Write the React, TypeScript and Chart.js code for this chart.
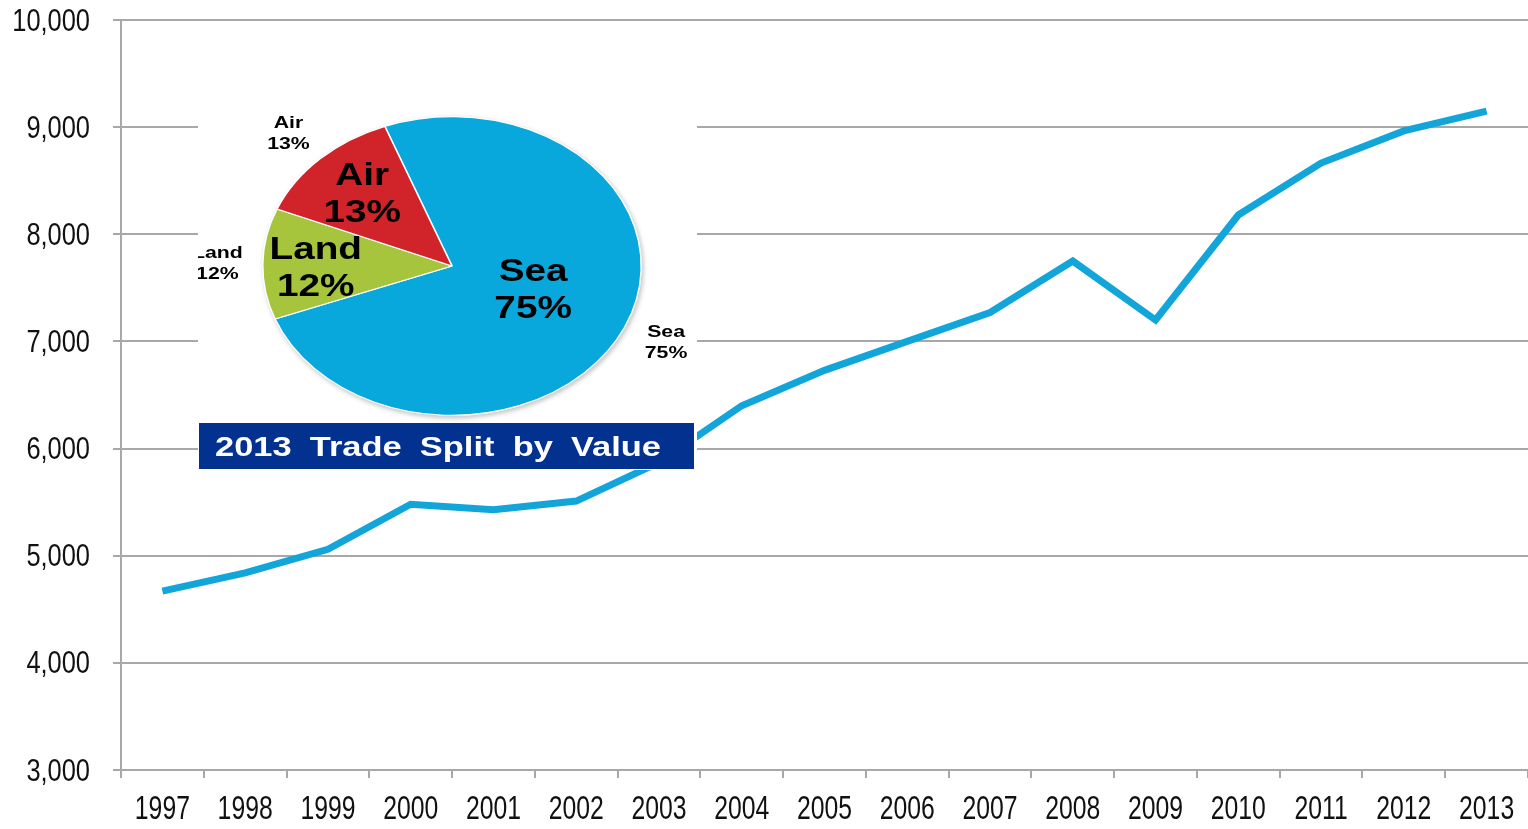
import React, { useEffect, useRef } from 'react';
import { Chart, registerables } from 'chart.js';

Chart.register(...registerables);

// ---- Data ----
const years = ['1997', '1998', '1999', '2000', '2001', '2002', '2003', '2004', '2005', '2006', '2007', '2008', '2009', '2010', '2011', '2012', '2013'];
const tradeValues = [4670, 4840, 5060, 5480, 5430, 5510, 5870, 6400, 6730, 7000, 7270, 7750, 7200, 8180, 8665, 8965, 9150];
const yMin = 3000;
const yMax = 10000;
const yStep = 1000;

const splitLabels = ['Sea', 'Land', 'Air'];
const splitShares = [75, 12, 13];
const splitColors = ['#08A8DC', '#A6C43C', '#D0232A'];
const splitTitle = '2013 Trade Split by Value';

// ---- Styles ----
const GRID = '#A8A8A8';
const LINE = '#12A5DA';
const SANS = "'Liberation Sans', Arial, sans-serif";
const SY = 300 / 380; // vertical squash of the pie (perspective look)
const SX_TEXT = 1.25;
const innerK = [0.47, 0.72, 0.68];
const innerShift = [-4, 4, 1];
const outerK = 1.24;

function drawText(ctx: CanvasRenderingContext2D, text: string, x: number, y: number, font: string, color: string, sx: number, align: CanvasTextAlign = 'center') {
  ctx.save();
  ctx.translate(x, y);
  ctx.scale(sx, 1);
  ctx.font = font;
  ctx.fillStyle = color;
  ctx.textAlign = align;
  ctx.textBaseline = 'middle';
  ctx.fillText(text, 0, 0);
  ctx.restore();
}

const narrowTicksPlugin = {
  id: 'narrowTicks',
  afterDraw(chart: any) {
    const ctx = chart.ctx as CanvasRenderingContext2D;
    const ys = chart.scales.y;
    ys.ticks.forEach((t: any, i: number) => {
      const py = ys.getPixelForTick(i);
      drawText(ctx, String(t.label), ys.right - 31, py + 2, `31px ${SANS}`, '#111', 0.82, 'right');
    });
    const xs = chart.scales.x;
    xs.ticks.forEach((t: any, i: number) => {
      const px = xs.getPixelForTick(i);
      const lbl = xs.getLabelForValue(t.value);
      drawText(ctx, String(lbl), px, xs.top + 40, `33px ${SANS}`, '#111', 0.75, 'center');
    });
  },
};

const ellipsePlugin = {
  id: 'ellipsePie',
  beforeDatasetsDraw(chart: any) {
    const ctx = chart.ctx as CanvasRenderingContext2D;
    const arc = chart.getDatasetMeta(0).data[0] as any;
    const { x, y, outerRadius } = arc;
    ctx.save();
    ctx.fillStyle = 'rgba(0,0,0,0.22)';
    ctx.filter = 'blur(2px)';
    ctx.beginPath();
    ctx.ellipse(x + 1.5, y + 2, outerRadius + 1, outerRadius * SY + 1, 0, 0, Math.PI * 2);
    ctx.fill();
    ctx.restore();
    ctx.save();
    ctx.translate(x, y);
    ctx.scale(1, SY);
    ctx.translate(-x, -y);
  },
  afterDatasetsDraw(chart: any) {
    chart.ctx.restore();
  },
  afterDraw(chart: any) {
    const ctx = chart.ctx as CanvasRenderingContext2D;
    const meta = chart.getDatasetMeta(0);
    meta.data.forEach((arc: any, i: number) => {
      const mid = (arc.startAngle + arc.endAngle) / 2;
      const r = arc.outerRadius;
      const pct = splitShares[i] + '%';
      // inner label
      const ix = arc.x + Math.cos(mid) * r * innerK[i];
      const iy = arc.y + Math.sin(mid) * r * innerK[i] * SY + innerShift[i];
      drawText(ctx, splitLabels[i], ix, iy - 18, `bold 31px ${SANS}`, '#000', SX_TEXT);
      drawText(ctx, pct, ix, iy + 19, `bold 31px ${SANS}`, '#000', SX_TEXT);
      // outer label
      const ox = arc.x + Math.cos(mid) * r * outerK;
      const oy = arc.y + Math.sin(mid) * r * outerK * SY;
      drawText(ctx, splitLabels[i], ox, oy - 10, `bold 17px ${SANS}`, '#000', SX_TEXT);
      drawText(ctx, pct, ox, oy + 11, `bold 17px ${SANS}`, '#000', SX_TEXT);
    });
    // title box
    const bx = 1, by = 363, bw = chart.width - 4, bh = 46;
    ctx.save();
    ctx.fillStyle = '#023190';
    ctx.fillRect(bx, by, bw, bh);
    ctx.restore();
    ctx.save();
    (ctx as any).wordSpacing = '7px';
    drawText(ctx, splitTitle, bx + 16, by + bh / 2 + 2, `bold 28px ${SANS}`, '#fff', 1.23, 'left');
    ctx.restore();
  },
};

export default function App() {
  const mainRef = useRef<HTMLCanvasElement>(null);
  const pieRef = useRef<HTMLCanvasElement>(null);

  useEffect(() => {
    const main = new Chart(mainRef.current!, {
      type: 'line',
      data: {
        labels: years,
        datasets: [
          {
            data: tradeValues,
            borderColor: LINE,
            borderWidth: 7,
            pointRadius: 0,
            tension: 0,
            fill: false,
          },
        ],
      },
      options: {
        responsive: false,
        animation: false,
        layout: { padding: 0 },
        plugins: { legend: { display: false }, tooltip: { enabled: false } },
        scales: {
          x: {
            offset: true,
            grid: { display: true, drawOnChartArea: false, drawTicks: true, tickLength: 8, color: GRID, lineWidth: 2, offset: true },
            border: { display: true, color: GRID, width: 2 },
            ticks: { font: { family: SANS, size: 20 }, color: 'rgba(0,0,0,0)', padding: 13, maxRotation: 0, autoSkip: false },
            afterFit: (s: any) => { s.height = 59; s.paddingLeft = 0; s.paddingRight = 0; },
          },
          y: {
            min: yMin,
            max: yMax,
            ticks: {
              stepSize: yStep,
              font: { family: SANS, size: 20 },
              color: 'rgba(0,0,0,0)',
              padding: 22,
              callback: (v: any) => Number(v).toLocaleString('en-US'),
            },
            grid: { color: GRID, lineWidth: 2, tickLength: 8 },
            border: { display: true, color: GRID, width: 2 },
            afterFit: (s: any) => { s.width = 121; s.paddingTop = 20; s.paddingBottom = 0; },
          },
        },
      },
      plugins: [narrowTicksPlugin],
    });

    const pie = new Chart(pieRef.current!, {
      type: 'pie',
      data: {
        labels: splitLabels,
        datasets: [
          {
            data: splitShares,
            backgroundColor: splitColors,
            borderColor: '#ffffff',
            borderWidth: 1.5,
          },
        ],
      },
      options: {
        responsive: false,
        animation: false,
        rotation: -20.8,
        layout: { padding: { left: 64, right: 55, top: 16, bottom: 14 } },
        plugins: { legend: { display: false }, tooltip: { enabled: false } },
      },
      plugins: [ellipsePlugin],
    });

    return () => {
      main.destroy();
      pie.destroy();
    };
  }, []);

  return (
    <div style={{ position: 'fixed', left: 0, top: 0, width: 1528, height: 829, background: '#fff', overflow: 'hidden' }}>
      <canvas ref={mainRef} width={1528} height={829} style={{ position: 'absolute', left: 0, top: 0 }} />
      <canvas ref={pieRef} width={499} height={410} style={{ position: 'absolute', left: 198, top: 60, background: '#fff' }} />
    </div>
  );
}
